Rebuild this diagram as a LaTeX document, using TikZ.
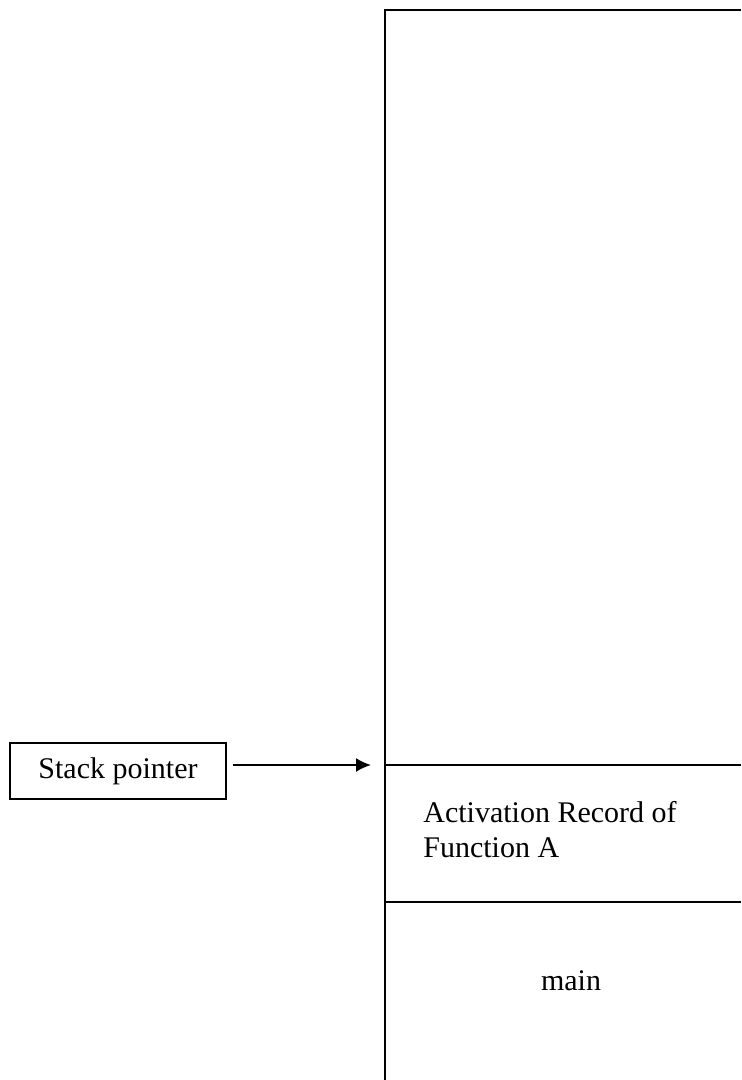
\documentclass[tikz,border=0pt]{standalone}
\usepackage{fontspec}
\setmainfont{Liberation Serif}
\usetikzlibrary{arrows.meta}

\begin{document}
\begin{tikzpicture}
    [
        x=0.5pt, y=-0.5pt,
        every node/.style = {font=\fontsize{15}{17.5}\selectfont},
        ptrbox/.style = {draw, shape=rectangle, minimum width=108pt, minimum height=28pt, line width=0.6pt},
        wall/.style = {line width=1pt},
    ]

    \useasboundingbox (0,0) rectangle (741,1080);

    % stack
    \draw[wall] (741,10) -- (385,10) -- (385,1080);
    \coordinate (top) at (385,765);
    \coordinate (mid) at (385,902);
    \draw[wall] (top) -- (741,765);
    \draw[wall] (mid) -- (741,902);

    \node[inner sep=0, align=left, anchor=west] (arec) at (423,830) {Activation Record of\\Function A};
    \node[inner sep=0, anchor=base] (mainrec) at (571,990) {main};

    % stack pointer
    \node[ptrbox] (ptr) at (118,771) {Stack pointer};
    \coordinate (sp) at (371,765);

    \draw [-{Latex[length=7.5pt,width=7pt]}, line width=1pt, shorten <=3pt] (ptr.east |- sp) -- (sp);
\end{tikzpicture}
\end{document}
